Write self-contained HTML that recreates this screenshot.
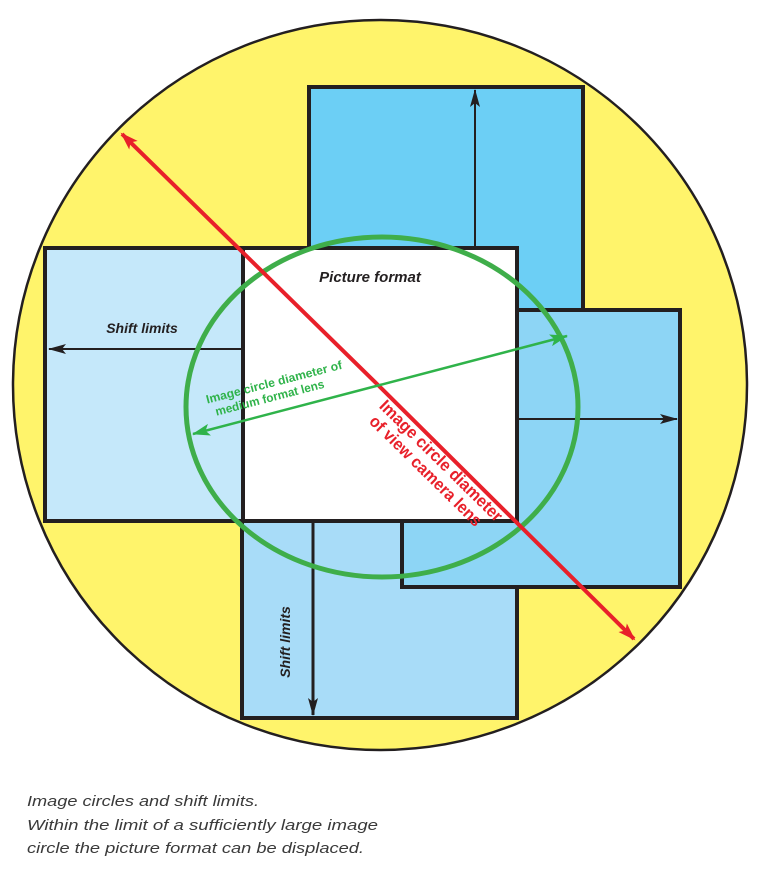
<!DOCTYPE html>
<html><head><meta charset="utf-8"><style>
html,body{margin:0;padding:0;background:#fff;width:760px;height:878px;overflow:hidden}
svg{display:block}
</style></head><body>
<svg width="760" height="878" viewBox="0 0 760 878" xmlns="http://www.w3.org/2000/svg" font-family="Liberation Sans, sans-serif">
<defs>
<marker id="ab" markerWidth="18" markerHeight="10" refX="17" refY="5" orient="auto" markerUnits="userSpaceOnUse"><path d="M0,0 L18,5 L0,10 L4,5 Z" fill="#231f20"/></marker>
<marker id="ar" markerWidth="18" markerHeight="12" refX="16" refY="6" orient="auto" markerUnits="userSpaceOnUse"><path d="M0,0 L18,6 L0,12 L4,6 Z" fill="#e8202a"/></marker>
<marker id="ag" markerWidth="18" markerHeight="12" refX="17" refY="6" orient="auto" markerUnits="userSpaceOnUse"><path d="M0,0 L18,6 L0,12 L4,6 Z" fill="#2fb34a"/></marker>
</defs>
<ellipse cx="380" cy="385" rx="367" ry="365" fill="#fff46b" stroke="#231f20" stroke-width="2.5"/>
<rect x="309" y="87" width="274" height="223" fill="#6ccff5" stroke="#231f20" stroke-width="4"/>
<rect x="242" y="521" width="275" height="197" fill="#a8dcf8" stroke="#231f20" stroke-width="4"/>
<rect x="402" y="310" width="278" height="277" fill="#8dd5f5" stroke="#231f20" stroke-width="4"/>
<rect x="45" y="248" width="198" height="273" fill="#c5e8fa" stroke="#231f20" stroke-width="4"/>
<rect x="243" y="248" width="274" height="273" fill="#fff" stroke="#231f20" stroke-width="4"/>
<line x1="475" y1="246" x2="475" y2="90" stroke="#231f20" stroke-width="2" marker-end="url(#ab)"/>
<line x1="241" y1="349" x2="49" y2="349" stroke="#231f20" stroke-width="2" marker-end="url(#ab)"/>
<line x1="519" y1="419" x2="677" y2="419" stroke="#231f20" stroke-width="2" marker-end="url(#ab)"/>
<line x1="313" y1="523" x2="313" y2="715" stroke="#231f20" stroke-width="3" marker-end="url(#ab)"/>
<ellipse cx="382" cy="407" rx="196" ry="170" fill="none" stroke="#3fae4a" stroke-width="5"/>
<line x1="378" y1="385" x2="122" y2="134" stroke="#e8202a" stroke-width="4" marker-end="url(#ar)"/>
<line x1="378" y1="385" x2="634" y2="639" stroke="#e8202a" stroke-width="4" marker-end="url(#ar)"/>
<line x1="380" y1="385" x2="567" y2="336" stroke="#2fb34a" stroke-width="2.5" marker-end="url(#ag)"/>
<line x1="380" y1="385" x2="193" y2="434" stroke="#2fb34a" stroke-width="2.5" marker-end="url(#ag)"/>
<text x="370" y="282" text-anchor="middle" font-size="15" font-weight="bold" font-style="italic" fill="#231f20">Picture format</text>
<text x="142" y="333" text-anchor="middle" font-size="14" font-weight="bold" font-style="italic" fill="#231f20">Shift limits</text>
<text transform="translate(290,642) rotate(-90)" text-anchor="middle" font-size="14" font-weight="bold" font-style="italic" fill="#231f20">Shift limits</text>
<g transform="translate(276,390) rotate(-14.5)" font-size="12" font-weight="bold" fill="#2fb34a" text-anchor="middle">
<text x="0" y="-4" textLength="140" lengthAdjust="spacingAndGlyphs">Image circle diameter of</text>
<text x="-8" y="10" textLength="112" lengthAdjust="spacingAndGlyphs">medium format lens</text>
</g>
<g transform="translate(440,462) rotate(44.5)" font-size="17" font-weight="bold" fill="#e8202a" text-anchor="middle">
<text x="0" y="4" textLength="165" lengthAdjust="spacingAndGlyphs">Image circle diameter</text>
<text x="-4" y="22" textLength="150" lengthAdjust="spacingAndGlyphs">of view camera lens</text>
</g>
<g font-size="15" font-style="italic" fill="#3a3a3a">
<text x="27" y="806" textLength="232" lengthAdjust="spacingAndGlyphs">Image circles and shift limits.</text>
<text x="27" y="830" textLength="351" lengthAdjust="spacingAndGlyphs">Within the limit of a sufficiently large image</text>
<text x="27" y="853" textLength="337" lengthAdjust="spacingAndGlyphs">circle the picture format can be displaced.</text>
</g>
</svg>
</body></html>
